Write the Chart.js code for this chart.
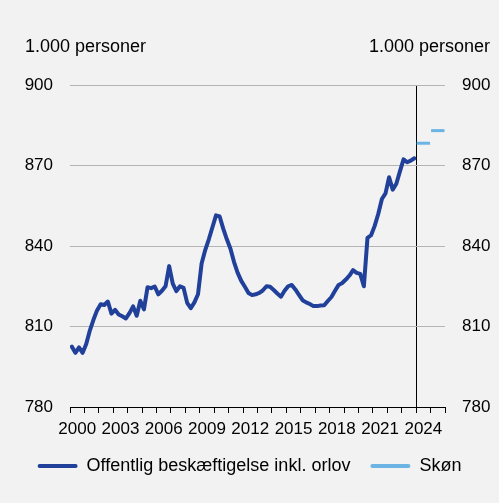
<!DOCTYPE html>
<html>
<head>
<meta charset="utf-8">
<script src="https://cdn.jsdelivr.net/npm/chart.js@4/dist/chart.umd.min.js"></script>
<style>
    body { margin: 0; background: #f2f2f2; }
    #wrap { position: relative; width: 499px; height: 503px; }
    .unit { position: absolute; top: 36px; font: 18px "Liberation Sans", Arial, sans-serif; color: #000; }
</style>
</head>
<body>
<div id="wrap">
    <canvas id="chart" width="499" height="503"></canvas>
    <div class="unit" style="left:25px">1.000 personer</div>
    <div class="unit" style="right:9px">1.000 personer</div>
</div>
<script>
// Quarterly public employment incl. leave, 2000K1 - 2023K4 (1.000 persons)
const startYear = 2000;
const offentlig = [
    802.5, 800.2, 802.2, 800.2, 803.5, 808.5, 812.5, 816.0,
    818.3, 818.0, 819.3, 814.8, 816.2, 814.5, 813.8, 813.0,
    815.0, 817.5, 814.0, 819.6, 816.4, 824.6, 824.3, 824.9,
    822.0, 823.3, 825.0, 832.5, 826.0, 823.2, 825.0, 824.4,
    818.8, 816.8, 819.0, 822.0, 833.5, 838.5, 842.5, 847.0,
    851.4, 851.0, 846.5, 842.5, 839.0, 834.0, 830.0, 827.0,
    824.8, 822.5, 821.7, 822.0, 822.5, 823.5, 825.0, 824.8,
    823.6, 822.3, 821.1, 823.3, 825.0, 825.5, 823.8, 821.8,
    819.8, 819.0, 818.4, 817.6, 817.6, 817.8, 817.9, 819.5,
    821.0, 823.3, 825.5, 826.2, 827.5, 829.0, 831.0, 830.0,
    829.6, 825.0, 843.0, 844.0, 847.5, 852.0, 857.5, 859.6,
    865.6, 861.0, 863.2, 867.8, 872.3, 871.2, 871.8, 872.7
];

// Estimate (Skøn) per year
const skonYears = [2024, 2025];
const skon = [878.3, 883.0];

const yTicks = [780, 810, 840, 870, 900];
const xLabelYears = [2000, 2003, 2006, 2009, 2012, 2015, 2018, 2021, 2024];
const forecastStart = 2024;

const tickFont = { family: '"Liberation Sans", Arial, sans-serif', size: 17 };
const legendFont = { family: '"Liberation Sans", Arial, sans-serif', size: 18 };
Chart.defaults.font = tickFont;
Chart.defaults.color = '#000';

const mainPoints = offentlig.map((v, i) => ({ x: startYear + (i + 0.5) / 4, y: v }));
const skonPoints = skon.map((v, i) => ({ x: skonYears[i] + 0.5, y: v }));

const yAxis = (pos, width) => ({
    position: pos,
    min: 780,
    max: 900,
    afterBuildTicks: axis => { axis.ticks = yTicks.map(v => ({ value: v })); },
    afterFit: axis => { axis.width = width; },
    ticks: { padding: 17, font: tickFont },
    grid: { color: '#b4b4b4', drawTicks: false, drawOnChartArea: pos === 'left' },
    border: { display: false }
});

new Chart(document.getElementById('chart'), {
    type: 'line',
    data: {
        datasets: [{
            label: 'Offentlig beskæftigelse inkl. orlov',
            data: mainPoints,
            borderColor: '#20409a',
            backgroundColor: '#20409a',
            borderWidth: 4,
            pointRadius: 0,
            tension: 0,
            borderJoinStyle: 'round',
            borderCapStyle: 'round',
            yAxisID: 'y'
        }, {
            label: 'Skøn',
            data: skonPoints,
            showLine: false,
            borderColor: '#6cb4e4',
            backgroundColor: '#6cb4e4',
            pointStyle: 'line',
            pointRadius: 6.7,
            pointBorderWidth: 3,
            yAxisID: 'y'
        }]
    },
    options: {
        responsive: false,
        animation: false,
        events: [],
        layout: { padding: { top: 85, left: 0, right: 0, bottom: 18 } },
        scales: {
            x: {
                type: 'linear',
                min: 2000,
                max: 2026,
                afterBuildTicks: axis => {
                    const t = [];
                    for (let v = 2000; v <= 2026; v++) t.push({ value: v });
                    axis.ticks = t;
                },
                afterFit: axis => { axis.height = 30; },
                ticks: {
                    autoSkip: false,
                    maxRotation: 0,
                    padding: 6,
                    labelOffset: 7.2,
                    font: tickFont,
                    callback: v => xLabelYears.includes(v) ? String(v) : ''
                },
                grid: {
                    color: c => c.tick && c.tick.value === forecastStart ? '#000' : 'rgba(0,0,0,0)',
                    tickColor: '#000',
                    tickLength: 6
                },
                border: { display: true, color: '#000', width: 1 }
            },
            y: yAxis('left', 70),
            y2: yAxis('right', 54)
        },
        plugins: {
            tooltip: { enabled: false },
            legend: {
                position: 'bottom',
                labels: {
                    boxWidth: 40,
                    boxHeight: 4,
                    padding: 20,
                    useBorderRadius: true,
                    borderRadius: 2,
                    font: legendFont,
                    generateLabels: chart => {
                        const items = Chart.defaults.plugins.legend.labels.generateLabels(chart);
                        items.forEach(it => { it.lineWidth = 0; it.fillStyle = it.strokeStyle; });
                        return items;
                    }
                }
            }
        }
    }
});
</script>
</body>
</html>
